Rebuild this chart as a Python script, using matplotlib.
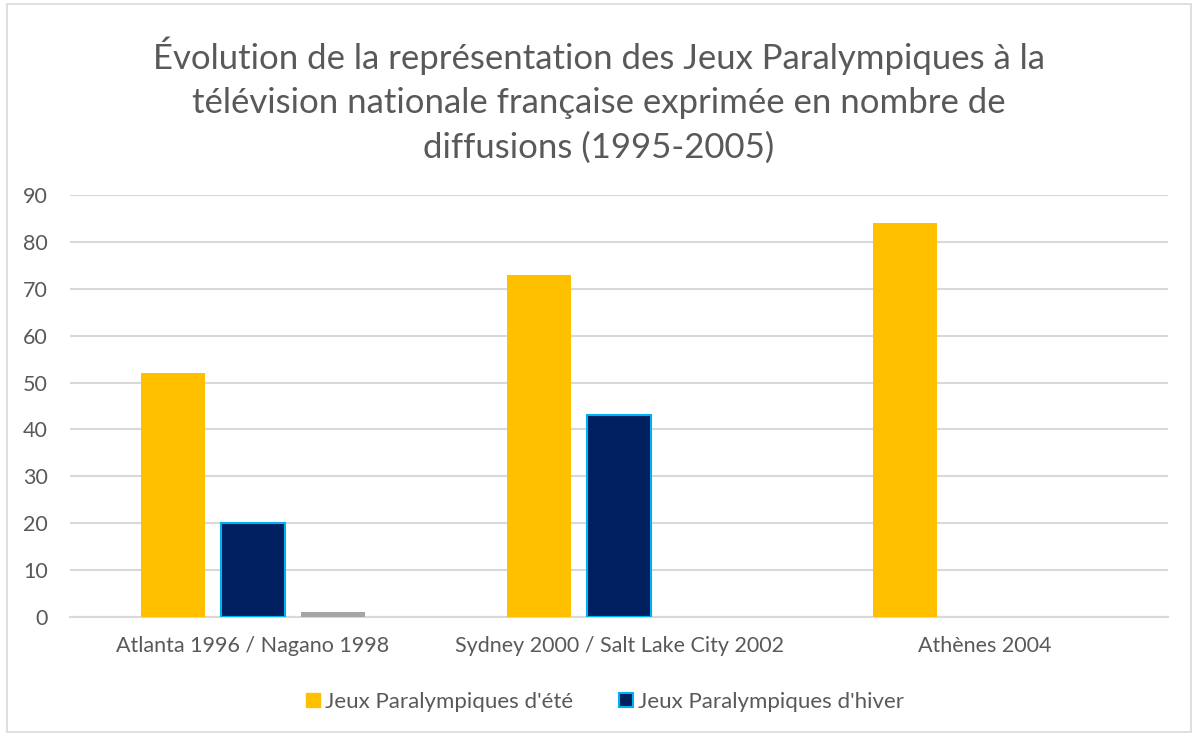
import numpy as np
import matplotlib
matplotlib.use("Agg")
import matplotlib.pyplot as plt
from matplotlib.patches import Rectangle, Patch

# Data
categories = ["Atlanta 1996 / Nagano 1998", "Sydney 2000 / Salt Lake City 2002", "Athènes 2004"]
ete = [52, 73, 84]
hiver = [20, 43, 0]
autre = [1, 0, 0]
yticks = [0, 10, 20, 30, 40, 50, 60, 70, 80, 90]

title = ("Évolution de la représentation des Jeux Paralympiques à la\n"
         "télévision nationale française exprimée en nombre de\n"
         "diffusions (1995-2005)")

plt.rcParams["font.family"] = ["Lato", "DejaVu Sans"]
txt = "#595959"

fig = plt.figure(figsize=(11.98, 7.36), dpi=100)
fig.patches.append(Rectangle((0.006, 0.006), 0.988, 0.988, transform=fig.transFigure,
                             fill=False, ec="#D9D9D9", lw=1.2))

ax = fig.add_axes([0.0584, 0.1617, 0.9166, 0.5733])

x = np.arange(len(categories))
w = 0.175
off = 0.219
ax.bar(x - off, ete, w, color="#FFC000", zorder=3)
hv = [h if h > 0 else np.nan for h in hiver]
ax.bar(x, hv, w, color="#002060", ec="#00B0F0", lw=1.5, zorder=3)
au = [a if a > 0 else np.nan for a in autre]
ax.bar(x + off, au, w, color="#A5A5A5", zorder=3)

ax.set_xlim(-0.5, 2.5)
ax.set_ylim(0, 90)
ax.set_yticks(yticks)
ax.set_xticks(x)
ax.set_xticklabels(categories)
ax.yaxis.grid(True, color="#D9D9D9", lw=1.5, zorder=0)
ax.set_axisbelow(True)
for s in ["top", "right", "left"]:
    ax.spines[s].set_visible(False)
ax.spines["bottom"].set_color("#D9D9D9")
ax.spines["bottom"].set_linewidth(1.5)
ax.tick_params(axis="both", length=0, labelsize=15.5, labelcolor=txt)
ax.tick_params(axis="y", pad=16)
ax.tick_params(axis="x", pad=14)

fig.text(0.5, 0.864, title, ha="center", va="center", fontsize=25, color=txt,
         linespacing=1.46)

handles = [Patch(fc="#FFC000", ec="#FFC000"),
           Patch(fc="#002060", ec="#00B0F0", lw=1.5)]
fig.legend(handles, ["Jeux Paralympiques d'été", "Jeux Paralympiques d'hiver"],
           loc="center", bbox_to_anchor=(0.505, 0.046), ncol=2, frameon=False,
           fontsize=16, labelcolor=txt, handlelength=0.6, handleheight=0.6,
           handletextpad=0.22, columnspacing=2.1)

fig.savefig("out.png", dpi=100)
